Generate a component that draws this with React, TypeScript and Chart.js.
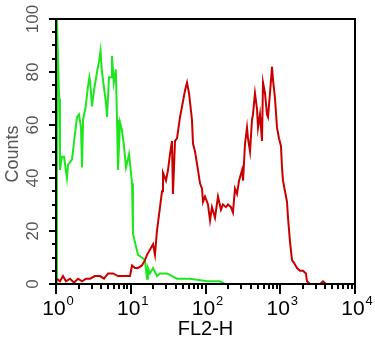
import React, { useEffect, useRef } from "react";
import { Chart, registerables } from "chart.js";
Chart.register(...registerables);

// Green histogram (control) : FL2-H value and counts
const greenX = [1.0, 1.03, 1.10, 1.13, 1.20, 1.28, 1.40, 1.45, 1.64, 1.80, 1.91, 2.03, 2.16, 2.23, 2.30, 2.50, 2.66, 2.80, 2.87, 3.03, 3.22, 3.54, 3.76, 3.94, 4.12, 4.39, 4.67, 4.81, 5.12, 5.45, 5.61, 5.93, 6.31, 6.55, 6.75, 7.18, 7.64, 8.12, 8.64, 9.50, 10.4, 10.7, 11.8, 12.5, 14.1, 15.5, 16.5, 17.0, 18.1, 19.9, 22.4, 24.6, 30.5, 41.6, 62.1, 105, 156, 182, 10000];
const greenY = [0, 100, 70, 43, 48, 48, 40, 45, 47, 57, 63, 64, 59, 44, 62, 67, 74, 78, 76, 67, 73, 80, 84, 88, 80, 74, 68, 63, 78, 78, 86, 76, 81, 62, 43, 61, 58, 52, 44, 49, 38, 19, 14, 11, 10, 9, 2, 6, 4, 6, 3, 4, 4, 2, 2, 1, 1, 0, 0];

// Red histogram (stained) : FL2-H value and counts
const redX = [1.03, 1.13, 1.24, 1.36, 1.54, 1.74, 1.97, 2.23, 2.52, 2.85, 3.32, 3.88, 4.39, 4.96, 5.79, 6.75, 8.12, 9.77, 10.4, 11.4, 12.5, 14.1, 15.5, 16.5, 19.9, 21.1, 22.4, 26.2, 27.0, 29.6, 31.5, 33.5, 35.6, 36.7, 39.1, 41.6, 45.6, 48.5, 53.2, 56.6, 60.2, 65.9, 68.0, 72.4, 79.4, 84.4, 89.8, 92.6, 98.5, 108, 115, 122, 134, 147, 161, 171, 188, 200, 219, 233, 248, 264, 281, 308, 318, 338, 359, 370, 394, 419, 432, 459, 489, 504, 536, 570, 588, 625, 665, 686, 729, 776, 800, 851, 905, 962, 1023, 1055, 1088, 1158, 1231, 1270, 1350, 1436, 1527, 1675, 1837, 2014, 2208, 2279, 2500, 3405, 3733, 4093, 10000];
const redY = [2, 1, 3, 1, 2, 0.5, 2, 1, 2, 2, 3, 3, 2, 4, 4, 3, 3, 3, 7, 6, 6, 7, 9, 11, 15, 11, 20, 35, 42, 39, 43, 49, 54, 34, 54, 55, 63, 67, 73, 76, 72, 62, 53, 50, 43, 38, 36, 31, 33, 30, 24, 29, 25, 33, 28, 30, 29, 30, 29, 27, 36, 34, 39, 43, 39, 53, 59, 55, 50, 62, 64, 72, 66, 59, 64, 54, 76, 72, 64, 63, 72, 82, 77, 70, 59, 55, 52, 44, 39, 35, 31, 25, 16, 9, 8, 6, 5, 5, 4, 1, 0, 0, 1, 0, 0];

const yTicks = [0, 20, 40, 60, 80, 100];
const yMinorStep = 5;
const xDecades = [0, 1, 2, 3, 4];
const xMinorMultipliers = [2, 3, 4, 5, 6, 7, 8, 9];
const xTitle = "FL2-H";
const yTitle = "Counts";

const FONT = "'Liberation Sans', Arial, sans-serif";

const axesPlugin = {
  id: "flowAxes",
  afterDatasetsDraw(chart: any) {
    const { ctx, chartArea } = chart;
    const xs = chart.scales.x;
    const ys = chart.scales.y;
    const { left, right, top, bottom } = chartArea;
    ctx.save();
    ctx.strokeStyle = "#000";
    ctx.lineWidth = 2;
    ctx.strokeRect(left, top, right - left, bottom - top);

    // y ticks
    ctx.beginPath();
    for (let v = ys.min; v <= ys.max; v += yMinorStep) {
      const py = Math.round(ys.getPixelForValue(v));
      const major = yTicks.includes(v);
      ctx.moveTo(left, py);
      ctx.lineTo(left - (major ? 7 : 4), py);
    }
    // x ticks
    xDecades.forEach((e, i) => {
      const px = Math.round(xs.getPixelForValue(Math.pow(10, e)));
      ctx.moveTo(px, bottom);
      ctx.lineTo(px, bottom + 10);
      if (i < xDecades.length - 1) {
        xMinorMultipliers.forEach((m) => {
          const mx = Math.round(xs.getPixelForValue(m * Math.pow(10, e)));
          ctx.moveTo(mx, bottom);
          ctx.lineTo(mx, bottom + 5);
        });
      }
    });
    ctx.stroke();

    // x tick labels 10^e
    ctx.fillStyle = "#000";
    ctx.textBaseline = "alphabetic";
    ctx.textAlign = "left";
    xDecades.forEach((e) => {
      const px = xs.getPixelForValue(Math.pow(10, e));
      ctx.font = `21px ${FONT}`;
      const w1 = ctx.measureText("10").width;
      ctx.font = `13px ${FONT}`;
      const w2 = ctx.measureText(String(e)).width;
      const start = px - (w1 + w2 + 1) / 2 + 2;
      ctx.font = `21px ${FONT}`;
      ctx.fillText("10", start, bottom + 31);
      ctx.font = `13px ${FONT}`;
      ctx.fillText(String(e), start + w1 + 1, bottom + 21);
    });

    // x title
    ctx.font = `20px ${FONT}`;
    ctx.textAlign = "center";
    ctx.fillText(xTitle, (left + right) / 2, bottom + 51);

    // y tick labels (rotated)
    ctx.fillStyle = "#555";
    ctx.font = `17px ${FONT}`;
    yTicks.forEach((v) => {
      const py = ys.getPixelForValue(v);
      ctx.save();
      ctx.translate(left - 18, py);
      ctx.rotate(-Math.PI / 2);
      ctx.textAlign = "center";
      ctx.fillText(String(v), 0, 0);
      ctx.restore();
    });

    // y title
    ctx.font = `18px ${FONT}`;
    ctx.save();
    ctx.translate(18, 154);
    ctx.rotate(-Math.PI / 2);
    ctx.textAlign = "center";
    ctx.fillText(yTitle, 0, 0);
    ctx.restore();

    ctx.restore();
  },
};

export default function App() {
  const ref = useRef<HTMLCanvasElement | null>(null);
  useEffect(() => {
    document.body.style.margin = "0";
    const canvas = ref.current;
    if (!canvas) return;
    const chart = new Chart(canvas, {
      type: "line",
      data: {
        datasets: [
          {
            label: "stained",
            data: redX.map((x, i) => ({ x, y: redY[i] })),
            borderColor: "#c80000",
            borderWidth: 2,
            pointRadius: 0,
            tension: 0,
            order: 0,
          },
          {
            label: "control",
            data: greenX.map((x, i) => ({ x, y: greenY[i] })),
            borderColor: "#1ee61e",
            borderWidth: 2,
            pointRadius: 0,
            tension: 0,
            order: 1,
          },
        ],
      },
      options: {
        responsive: false,
        animation: false,
        layout: { padding: { left: 56, right: 20, top: 19, bottom: 63 } },
        scales: {
          x: { type: "logarithmic", min: 1, max: 10000, display: false },
          y: { type: "linear", min: 0, max: 100, display: false },
        },
        plugins: { legend: { display: false }, tooltip: { enabled: false } },
      },
      plugins: [axesPlugin],
    });
    return () => chart.destroy();
  }, []);
  return (
    <div style={{ width: 375, height: 347, background: "#fff" }}>
      <canvas ref={ref} width={375} height={347} style={{ display: "block" }} />
    </div>
  );
}
